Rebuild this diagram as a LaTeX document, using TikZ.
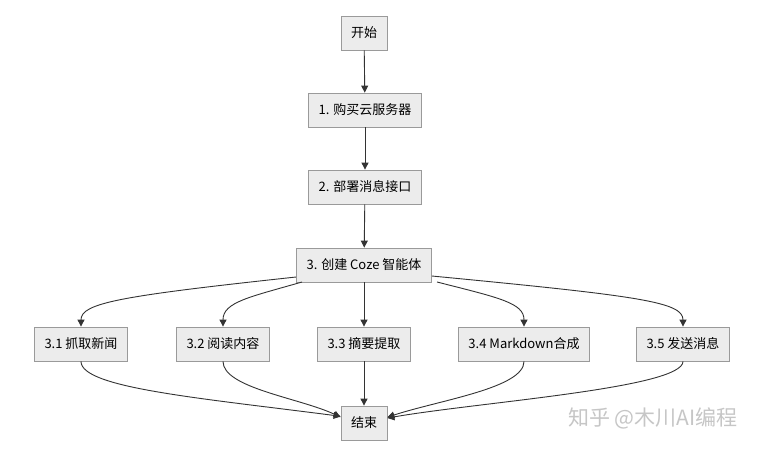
\documentclass[tikz,border=0pt]{standalone}
\usepackage{fontspec}
\setmainfont{Noto Sans CJK SC}
\usepackage{xcolor}
\usepackage{tikz}
\usetikzlibrary{arrows.meta}
\definecolor{boxfill}{HTML}{ECECEC}
\definecolor{boxline}{HTML}{9A9A9A}
\definecolor{edge}{HTML}{333333}
\definecolor{mark}{HTML}{C6C6C6}
\tikzset{
  stepbox/.style={draw=boxline, fill=boxfill, line width=0.8pt, minimum height=34pt,
    inner xsep=10pt, font=\fontsize{13pt}{15pt}\selectfont, text=black},
  flow/.style={draw=edge, line width=0.9pt, -{Triangle[width=7pt,length=7pt]}},
  wmark/.style={text=mark, font=\fontsize{21pt}{24pt}\selectfont}
}
\begin{document}
\begin{tikzpicture}[x=1pt,y=-1pt]
  \useasboundingbox[fill=white] (0,0) rectangle (763,450);

  \node[stepbox] (start) at (364,33) {开始};
  \node[stepbox] (buy) at (365,110) {1. 购买云服务器};
  \node[stepbox] (deploy) at (365,187) {2. 部署消息接口};
  \node[stepbox] (agent) at (364,265) {3. 创建 Coze 智能体};

  \node[stepbox] (fetch) at (81,344) {3.1 抓取新闻};
  \node[stepbox] (read) at (223,344) {3.2 阅读内容};
  \node[stepbox] (summ) at (364,344) {3.3 摘要提取};
  \node[stepbox] (md) at (524,344) {3.4 Markdown合成};
  \node[stepbox] (send) at (683,344) {3.5 发送消息};

  \node[stepbox] (stop) at (364,423) {结束};

  \node[wmark] (zhihu) at (653,418) {知乎 @木川AI编程};

  \draw[flow] (start) -- (buy);
  \draw[flow] (buy) -- (deploy);
  \draw[flow] (deploy) -- (agent);
  \draw[flow] (agent) -- (summ);
  \draw[flow] (summ) -- (stop);

  % fan out from the agent box
  \draw[flow] (agent.south west |- 0,277) .. controls (120,296) and (81,303) .. (fetch.north);
  \draw[flow] (302,282) .. controls (250,297) and (223,302) .. (read.north);
  \draw[flow] (437,282) .. controls (500,298) and (524,303) .. (md.north);
  \draw[flow] (agent.south east |- 0,276) .. controls (640,296) and (683,302) .. (send.north);

  % fan in to the end box
  \draw[flow] (fetch.south) .. controls (81,388) and (200,398) .. (stop.164);
  \draw[flow] (read.south) .. controls (223,388) and (300,398) .. (stop.166);
  \draw[flow] (md.south) .. controls (524,388) and (440,400) .. (stop.14);
  \draw[flow] (send.south) .. controls (683,388) and (480,402) .. (stop.12);
\end{tikzpicture}
\end{document}
